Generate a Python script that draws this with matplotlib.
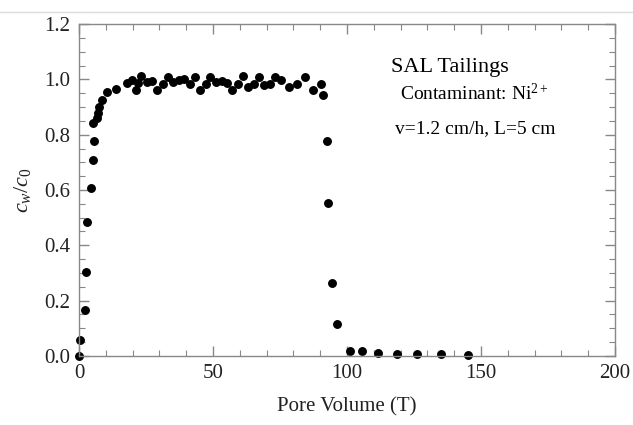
import matplotlib
matplotlib.use('Agg')
import matplotlib.pyplot as plt
from matplotlib.ticker import MultipleLocator, FormatStrFormatter
from matplotlib.lines import Line2D

plt.rcParams['font.family'] = 'Liberation Serif'
plt.rcParams['mathtext.fontset'] = 'custom'
plt.rcParams['mathtext.rm'] = 'Liberation Serif'
plt.rcParams['mathtext.it'] = 'Liberation Serif:italic'

# breakthrough curve
pore_volume = [0.1, 0.4, 2.1, 2.5, 3.1, 4.4, 5.2, 5.7, 5.3, 6.6, 7.0, 7.6, 8.5, 10.3,
               13.8, 18.0, 19.9, 21.4, 22.1, 23.2, 25.2, 27.1, 29.2, 31.2, 33.2,
               35.2, 37.2, 39.3, 41.3, 43.3, 45.3, 47.3, 49.0, 51.1, 53.2, 55.2,
               57.1, 59.2, 61.2, 63.2, 65.2, 67.2, 69.2, 71.3, 73.1, 75.3, 78.2,
               81.2, 84.3, 87.3, 90.4, 91.0, 92.5, 92.8, 94.4, 96.3, 101.0, 105.7,
               111.6, 118.5, 126.2, 135.0, 145.0]
conc_ratio = [0.0, 0.059, 0.165, 0.305, 0.485, 0.607, 0.708, 0.778, 0.843, 0.859,
              0.880, 0.899, 0.925, 0.955, 0.965, 0.985, 0.997, 0.960, 0.988, 1.011,
              0.990, 0.994, 0.962, 0.984, 1.008, 0.990, 0.997, 1.000, 0.984, 1.008,
              0.962, 0.984, 1.008, 0.990, 0.994, 0.988, 0.962, 0.984, 1.011, 0.972,
              0.984, 1.007, 0.978, 0.984, 1.009, 0.997, 0.971, 0.982, 1.009, 0.961,
              0.984, 0.944, 0.777, 0.554, 0.265, 0.115, 0.017, 0.017, 0.011, 0.006,
              0.006, 0.006, 0.002]

fig = plt.figure(figsize=(6.33, 4.25), dpi=100)
ax = fig.add_axes([0.1248, 0.1624, 0.9716 - 0.1248, 0.9435 - 0.1624])

# thin grey rule across the top of the screenshot
fig.add_artist(Line2D([0, 1], [1 - 12 / 425, 1 - 12 / 425], color='#dddddd', lw=1))

ax.plot(pore_volume, conc_ratio, 'o', color='black', markersize=5.4, clip_on=False)

ax.set_xlim(0, 200)
ax.set_ylim(0, 1.2)
ax.xaxis.set_major_locator(MultipleLocator(50))
ax.xaxis.set_minor_locator(MultipleLocator(10))
ax.yaxis.set_major_locator(MultipleLocator(0.2))
ax.yaxis.set_minor_locator(MultipleLocator(0.05))
ax.yaxis.set_major_formatter(FormatStrFormatter('%.1f'))

for s in ax.spines.values():
    s.set_color('#888888')
    s.set_linewidth(1.0)
ax.tick_params(which='both', direction='in', top=True, right=True,
               color='#888888', labelsize=15, labelcolor='#222222', pad=6)
ax.tick_params(which='major', length=7, width=1)
ax.tick_params(which='minor', length=4, width=0.8)

ax.set_xlabel('Pore Volume (T)', fontsize=15, color='#222222', labelpad=10)
ax.set_ylabel('$c_w/c_0$', fontsize=16, color='#222222', labelpad=8)

ax.text(0.582, 0.856, 'SAL Tailings', transform=ax.transAxes, fontsize=16, va='baseline')
ax.text(0.599, 0.771, 'Contaminant: Ni$^{2+}$', transform=ax.transAxes, fontsize=14,
        va='baseline')
ax.text(0.590, 0.672, 'v=1.2 cm/h, L=5 cm', transform=ax.transAxes, fontsize=14,
        va='baseline')

fig.savefig('out.png', dpi=100)
